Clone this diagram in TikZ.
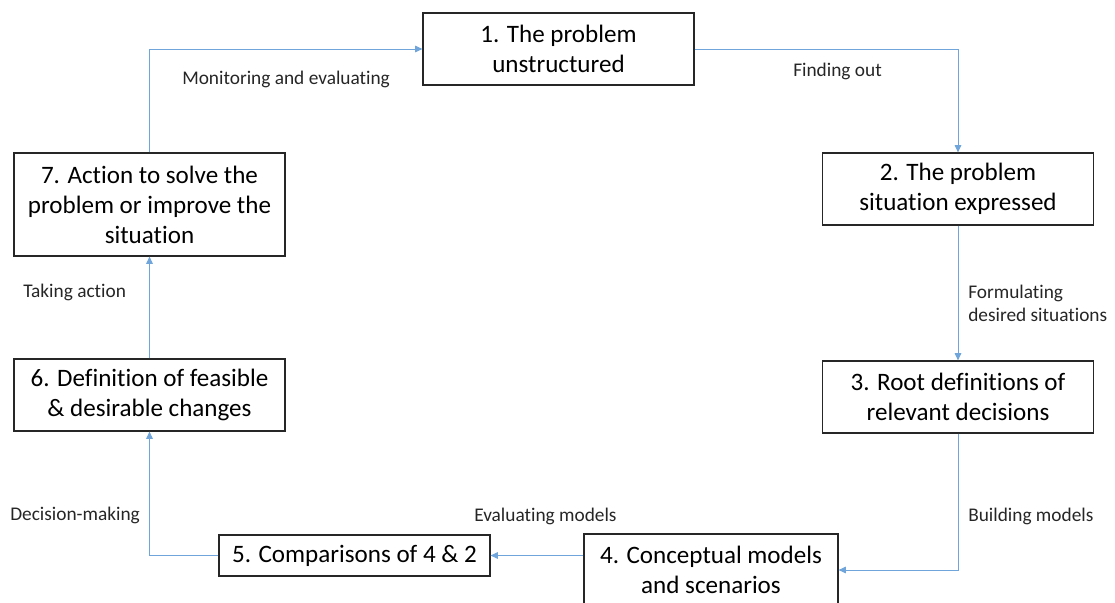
\documentclass[tikz,border=0pt]{standalone}
\usepackage{fontspec}
\setmainfont{Carlito}[Ligatures=NoCommon]
\usetikzlibrary{arrows.meta}
\definecolor{linkblue}{HTML}{6FA5DA}
\definecolor{boxline}{HTML}{262626}
\begin{document}
\begin{tikzpicture}[x=0.75pt,y=-0.75pt,
  box/.style={draw=boxline, line width=0.9pt, align=center, inner sep=0pt,
    minimum width=203.25pt, minimum height=54pt,
    font=\fontsize{18.8}{22.5}\selectfont},
  link/.style={draw=linkblue, line width=0.65pt,
    -{Triangle[length=5.5pt,width=5pt]}},
  lbl/.style={font=\fontsize{14.5}{17.25}\selectfont, text=black!85,
    inner sep=0pt, anchor=west, align=left}]
\useasboundingbox (0,0) rectangle (1115,603);

% stages of the cycle
\node[box] (b1) at (558.5,49) {1. The problem\\unstructured};
\node[box] (b2) at (958,189) {2. The problem\\situation expressed};
\node[box] (b3) at (958,397) {3. Root definitions of\\relevant decisions};
\node[box, minimum width=190.5pt] (b4) at (711,570) {4. Conceptual models\\and scenarios};
\node[box, minimum height=30.75pt] (b5) at (354.5,555.5) {5. Comparisons of 4 \& 2};
\node[box] (b6) at (149.5,395) {6. Definition of feasible\\\& desirable changes};
\node[box, minimum height=77.25pt] (b7) at (149.5,204.5) {7. Action to solve the\\problem or improve the\\situation};

% transitions
\draw[link] (b7.north) |- (b1.west);
\draw[link] (b1.east) -| (b2.north);
\draw[link] (b2) -- (b3);
\draw[link] (b3.south) |- (b4.east);
\draw[link] (b4.west |- b5.east) -- (b5.east);
\draw[link] (b5.west) -| (b6.south);
\draw[link] (b6) -- (b7);

% transition labels
\node[lbl] (l71) at (182,79) {Monitoring and evaluating};
\node[lbl] (l12) at (793,71) {Finding out};
\node[lbl] (l23) at (968,303.5) {Formulating\\desired situations};
\node[lbl] (l34) at (968,516) {Building models};
\node[lbl] (l45) at (474,516) {Evaluating models};
\node[lbl] (l56) at (10,515) {Decision-making};
\node[lbl] (l67) at (23,292) {Taking action};
\end{tikzpicture}
\end{document}
